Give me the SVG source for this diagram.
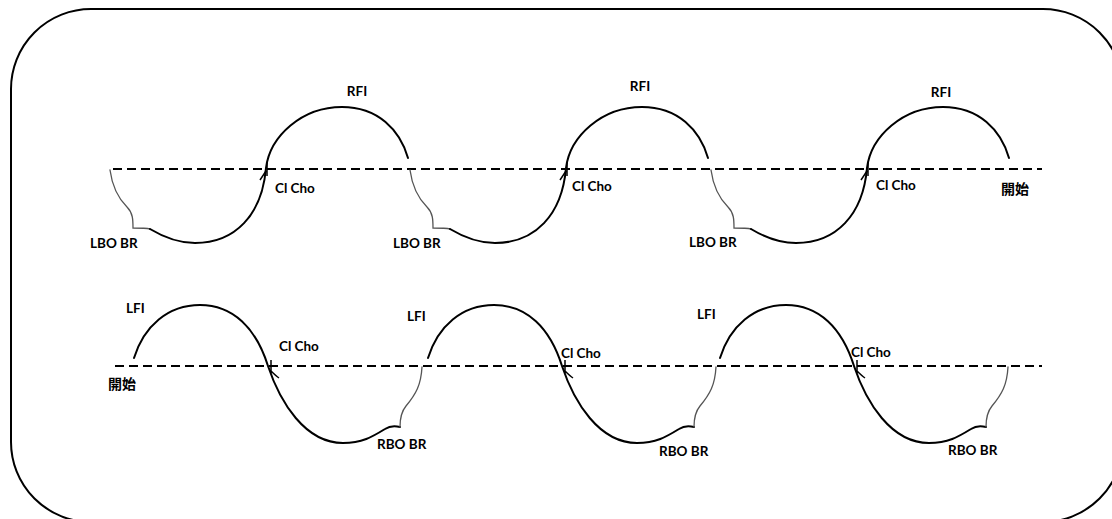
<svg xmlns="http://www.w3.org/2000/svg" width="1112" height="519" viewBox="0 0 1112 519">
<style>
.frame{fill:none;stroke:#000;stroke-width:2}
.axis{fill:none;stroke:#000;stroke-width:2;stroke-dasharray:9 5}
.w{fill:none;stroke:#000;stroke-width:2;stroke-linecap:round}
.g{fill:none;stroke:#555;stroke-width:1.3;stroke-linecap:round}
.t{fill:none;stroke:#000;stroke-width:1.5}
.lb{font-family:Lato,"Liberation Sans",sans-serif;font-weight:bold;font-size:13.5px;fill:#000}
.cj{font-family:"Noto Sans CJK TC","Noto Sans CJK SC",sans-serif;font-weight:bold;font-size:14px;fill:#000}
</style>
<defs>
<g id="topWave">
<path class="g" d="M110,170 C112,185 118,198 127,207 C133,213 133,220 133,228 C140,228 146,228 150,229"/>
<path class="w" d="M150,229 C165,238 178,243 195,243 C235,243 262,215 266,168 C270,136 302,107 342,107 C378,107 400,130 408,158"/>
<path class="t" d="M267,162 L267,176 M260,180 C262,177 264,174 266,171"/>
</g>
<g id="botWave">
<path class="w" d="M134,358 C144,326 168,305 200,305 C233,305 256,328 268,366 C280,402 305,443 343,443 C362,443 372,437 385,429 C391,425 396,426 400,427"/>
<path class="g" d="M400,427 C400,420 401,412 406,406 C416,394 421,385 422,367"/>
<path class="t" d="M271,360 L271,373 M270,370 C273,373 276,376 279,378"/>
</g>
</defs>
<rect width="1112" height="519" fill="#fff"/>
<rect class="frame" x="11" y="9" width="1112" height="513" rx="80" ry="80"/>
<g id="connectors">
<line class="axis" x1="113" y1="169" x2="1042" y2="169"/>
<line class="axis" x1="115" y1="366" x2="1042" y2="366"/>
</g>
<g id="top-wave-1"><use href="#topWave"/></g>
<g id="top-wave-2"><use href="#topWave" transform="translate(300,0)"/></g>
<g id="top-wave-3"><use href="#topWave" transform="translate(601,0)"/></g>
<g id="bottom-wave-1"><use href="#botWave"/></g>
<g id="bottom-wave-2"><use href="#botWave" transform="translate(294,0)"/></g>
<g id="bottom-wave-3"><use href="#botWave" transform="translate(586,0)"/></g>
<g id="labels-top">
<text class="lb" x="357" y="96" text-anchor="middle">RFI</text>
<text class="lb" x="640" y="91" text-anchor="middle">RFI</text>
<text class="lb" x="941" y="97" text-anchor="middle">RFI</text>
<text class="lb" x="275" y="193">Cl Cho</text>
<text class="lb" x="572" y="191">Cl Cho</text>
<text class="lb" x="876" y="190">Cl Cho</text>
<text class="lb" x="90" y="248">LBO BR</text>
<text class="lb" x="393" y="248">LBO BR</text>
<text class="lb" x="689" y="247">LBO BR</text>
<text class="cj" x="1001" y="194">開始</text>
</g>
<g id="labels-bottom">
<text class="lb" x="126" y="313">LFI</text>
<text class="lb" x="407" y="321">LFI</text>
<text class="lb" x="697" y="319">LFI</text>
<text class="lb" x="279" y="351">Cl Cho</text>
<text class="lb" x="561" y="358">Cl Cho</text>
<text class="lb" x="851" y="357">Cl Cho</text>
<text class="cj" x="108" y="389">開始</text>
<text class="lb" x="377" y="449">RBO BR</text>
<text class="lb" x="659" y="456">RBO BR</text>
<text class="lb" x="948" y="455">RBO BR</text>
</g>
</svg>
